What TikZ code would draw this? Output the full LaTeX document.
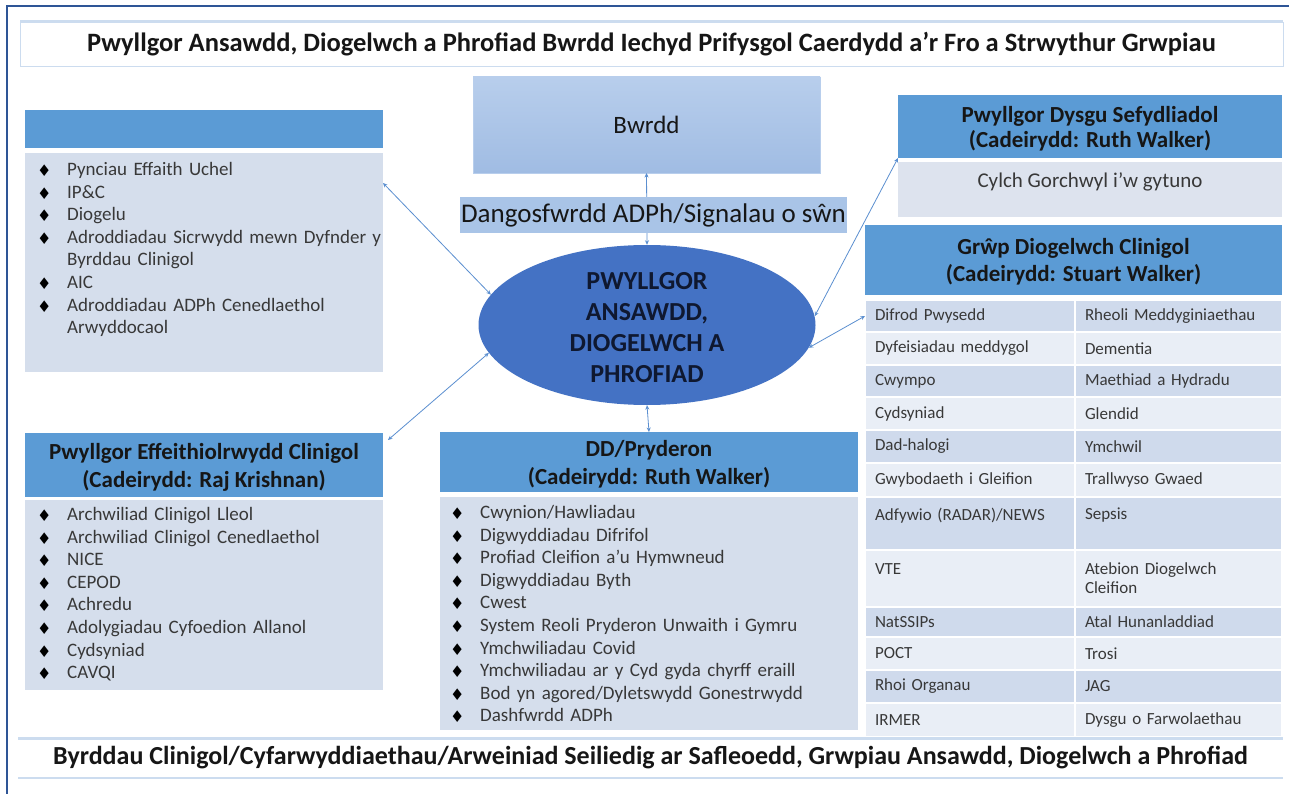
\documentclass[tikz,border=0pt]{standalone}
\usepackage{fontspec}
\setmainfont{Carlito}
\newfontfamily\symfont{DejaVu Sans}
\usetikzlibrary{shapes.geometric,arrows.meta}

\definecolor{frameblue}{HTML}{2E5596}
\definecolor{hdrblue}{HTML}{5B9BD5}
\definecolor{bodyblue}{HTML}{D5DEEC}
\definecolor{boardtop}{HTML}{B8CEEC}
\definecolor{boardbot}{HTML}{A0BCE3}
\definecolor{dashblue}{HTML}{A9C4E7}
\definecolor{ovalblue}{HTML}{4472C4}
\definecolor{rowdark}{HTML}{CFDAEC}
\definecolor{rowlight}{HTML}{E9EEF6}
\definecolor{linkblue}{HTML}{5B8FD0}
\definecolor{titleline}{HTML}{CCDCEF}
\definecolor{termsfill}{HTML}{DDE3EE}
\definecolor{headtext}{HTML}{161616}
\definecolor{listtext}{HTML}{383838}
\definecolor{ovaltext}{HTML}{0F1830}

\newcommand\fs[2]{\fontsize{#1}{#2}\selectfont}
\newcommand\blt{\makebox[30pt][l]{\raisebox{-1pt}{\symfont\fs{16}{16}\color{black}♦}}}
\newcommand\itm[1]{\blt #1}
\newcommand\cnt[1]{\hspace*{30pt}#1}

\tikzset{
  box/.style={anchor=north west, inner sep=0pt, outer sep=0pt},
  hdr/.style={box, fill=hdrblue, text=headtext, font=\bfseries\fs{23}{28}, align=center, text depth=0pt},
  panel/.style={box, fill=bodyblue},
  listing/.style={anchor=base west, inner sep=0pt, text=listtext, font=\fs{19}{22.6}, align=left, text width=#1},
  cell/.style={box, inner xsep=10pt, inner ysep=0pt, text=listtext, font=\fs{17}{19}, align=left, draw=white, line width=1.2pt},
  link/.style={draw=linkblue, line width=0.8pt, {Stealth[length=4.5pt,width=4pt]}-{Stealth[length=4.5pt,width=4pt]}},
}

% one table row: name, top, height, fill, left text, right text
\newcommand\trow[6]{%
  \node[cell, fill=#4, text width=190pt, minimum height=#3pt] (#1a) at (865,#2) {#5};
  \node[cell, fill=#4, text width=187pt, minimum height=#3pt] (#1b) at (1075,#2) {#6};}

\begin{document}
\begin{tikzpicture}[x=1pt,y=-1pt]
\useasboundingbox (0,0) rectangle (1289,794);
\fill[white] (0,0) rectangle (1289,794);
\draw[frameblue, line width=2pt] (7,794) -- (7,6) -- (1289,6);

% heading strip
\node[box, minimum width=1263pt, minimum height=44pt, fill=white, draw=titleline, line width=0.8pt,
      font=\bfseries\fs{26.5}{28}, text=headtext] (title) at (20,22)
  {Pwyllgor Ansawdd, Diogelwch a Phrofiad Bwrdd Iechyd Prifysgol Caerdydd a’r Fro a Strwythur Grwpiau};
\draw[titleline, line width=3pt] (title.north west) -- (title.north east);

% board
\node[box, minimum width=347pt, minimum height=96pt, top color=boardtop, bottom color=boardbot,
      draw=boardtop, font=\fs{25}{28}, text=headtext] (board) at (473,77) {Bwrdd};

% committee oval
\node[ellipse, fill=ovalblue, minimum width=337pt, minimum height=160pt, inner sep=0pt] (oval) at (647,325) {};
\node[align=center, font=\bfseries\fs{26}{31}, text=ovaltext] (ovaltext) at ([yshift=-3pt]oval.center)
  {PWYLLGOR\\ANSAWDD,\\DIOGELWCH A\\PHROFIAD};

\draw[link] (oval.north) -- (board.south);

\node[box, minimum width=387pt, minimum height=36pt, fill=dashblue, font=\fs{27}{28}, text=headtext] (dash) at (460,197)
  {Dangosfwrdd ADPh/Signalau o sŵn};

% top-left panel
\node[hdr, minimum width=358pt, minimum height=38pt] (qhdr) at (25,110) {};
\node[panel, minimum width=358pt, minimum height=219pt] (qbody) at (25,153) {};
\node[listing=350pt] (qlist) at (37,175.5)
  {\itm{Pynciau Effaith Uchel}\\
   \itm{IP\&C}\\
   \itm{Diogelu}\\
   \itm{Adroddiadau Sicrwydd mewn Dyfnder y}\\
   \cnt{Byrddau Clinigol}\\
   \itm{AIC}\\
   \itm{Adroddiadau ADPh Cenedlaethol}\\
   \cnt{Arwyddocaol}};

% clinical effectiveness panel
\node[hdr, minimum width=358pt, minimum height=64pt] (ehdr) at (25,433)
  {Pwyllgor Effeithiolrwydd Clinigol\\(Cadeirydd: Raj Krishnan)};
\node[panel, minimum width=358pt, minimum height=190pt] (ebody) at (25,500) {};
\node[listing=340pt] (elist) at (37,520.5)
  {\itm{Archwiliad Clinigol Lleol}\\
   \itm{Archwiliad Clinigol Cenedlaethol}\\
   \itm{NICE}\\
   \itm{CEPOD}\\
   \itm{Achredu}\\
   \itm{Adolygiadau Cyfoedion Allanol}\\
   \itm{Cydsyniad}\\
   \itm{CAVQI}};

% concerns panel
\node[hdr, minimum width=418pt, minimum height=60pt] (ddhdr) at (440,432)
  {DD/Pryderon\\(Cadeirydd: Ruth Walker)};
\node[panel, minimum width=418pt, minimum height=233pt] (ddbody) at (440,497) {};
\node[listing=400pt] (ddlist) at (450,518.5)
  {\itm{Cwynion/Hawliadau}\\
   \itm{Digwyddiadau Difrifol}\\
   \itm{Profiad Cleifion a’u Hymwneud}\\
   \itm{Digwyddiadau Byth}\\
   \itm{Cwest}\\
   \itm{System Reoli Pryderon Unwaith i Gymru}\\
   \itm{Ymchwiliadau Covid}\\
   \itm{Ymchwiliadau ar y Cyd gyda chyrff eraill}\\
   \itm{Bod yn agored/Dyletswydd Gonestrwydd}\\
   \itm{Dashfwrdd ADPh}};

% organisational learning
\node[hdr, minimum width=384pt, minimum height=63pt, font=\bfseries\fs{23}{25}] (dysguhdr) at (898,95)
  {Pwyllgor Dysgu Sefydliadol\\(Cadeirydd: Ruth Walker)};
\node[box, fill=termsfill, minimum width=384pt, minimum height=55pt] (terms) at (898,162) {};
\node[font=\fs{21}{24}, text=listtext] (termstext) at ([yshift=-20pt]terms.north) {Cylch Gorchwyl i’w gytuno};

% clinical safety group
\node[hdr, minimum width=417pt, minimum height=70pt, font=\bfseries\fs{23}{27}] (grphdr) at (865,225)
  {Grŵp Diogelwch Clinigol\\(Cadeirydd: Stuart Walker)};
\trow{r1}{300}{32}{rowdark}{Difrod Pwysedd}{Rheoli Meddyginiaethau}
\trow{r2}{332}{33}{rowlight}{Dyfeisiadau meddygol}{Dementia}
\trow{r3}{365}{32}{rowdark}{Cwympo}{Maethiad a Hydradu}
\trow{r4}{397}{33}{rowlight}{Cydsyniad}{Glendid}
\trow{r5}{430}{33}{rowdark}{Dad-halogi}{Ymchwil}
\trow{r6}{463}{34}{rowlight}{Gwybodaeth i Gleifion}{Trallwyso Gwaed}
\trow{r7}{497}{53}{rowdark}{Adfywio (RADAR)/NEWS\\\mbox{}}{Sepsis\\\mbox{}}
\trow{r8}{550}{57}{rowlight}{VTE\\\mbox{}}{Atebion Diogelwch\\Cleifion}
\trow{r9}{607}{30}{rowdark}{NatSSIPs}{Atal Hunanladdiad}
\trow{r10}{637}{33}{rowlight}{POCT}{Trosi}
\trow{r11}{670}{33}{rowdark}{Rhoi Organau}{JAG}
\trow{r12}{703}{34}{rowlight}{IRMER}{Dysgu o Farwolaethau}

% connectors
\draw[link] (oval.169) -- ([yshift=-30pt]qbody.north east);
\draw[link] (oval.190) -- ([xshift=5pt,yshift=-7pt]ehdr.north east);
\draw[link] (oval.south) -- (ddhdr.north);
\draw[link] (oval.3) -- (dysguhdr.south west);
\draw[link] (oval.352) -- (r1a.west);

% footer strip
\node[box, minimum width=1265pt, minimum height=40pt, fill=white, font=\bfseries\fs{26}{26}, text=headtext] (foot) at (18,738)
  {Byrddau Clinigol/Cyfarwyddiaethau/Arweiniad Seiliedig ar Safleoedd, Grwpiau Ansawdd, Diogelwch a Phrofiad};
\draw[titleline, line width=3pt] (foot.north west) -- (foot.north east);
\draw[titleline, line width=2pt] (foot.south west) -- (foot.south east);
\end{tikzpicture}
\end{document}
